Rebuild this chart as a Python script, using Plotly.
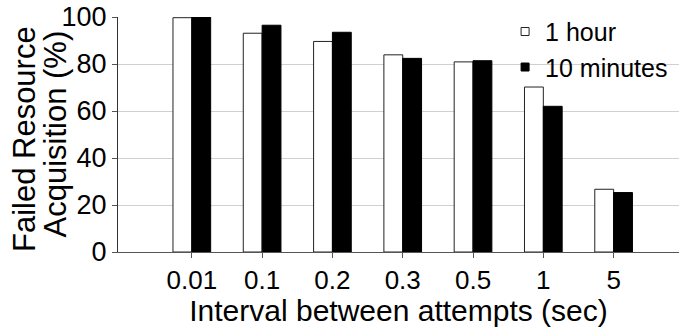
import plotly.graph_objects as go

categories = ["0.01", "0.1", "0.2", "0.3", "0.5", "1", "5"]
one_hour = [99.7, 93.1, 89.6, 83.9, 80.9, 70.2, 26.7]
ten_minutes = [100.0, 96.5, 93.5, 82.4, 81.4, 62.0, 25.3]
series_names = ["1 hour", "10 minutes"]
y_ticks = [0, 20, 40, 60, 80, 100]

FONT = "Liberation Sans, Arial, sans-serif"

fig = go.Figure()
fig.add_trace(go.Bar(x=categories, y=one_hour, name=series_names[0],
                     marker=dict(color="white", line=dict(color="#222", width=1)),
                     showlegend=False))
fig.add_trace(go.Bar(x=categories, y=ten_minutes, name=series_names[1],
                     marker=dict(color="black", line=dict(color="black", width=1)),
                     showlegend=False))
# legend entries with small square markers
fig.add_trace(go.Scatter(x=[None], y=[None], mode="markers", name=series_names[0],
                         marker=dict(symbol="square", size=8, color="white",
                                     line=dict(color="#222", width=1))))
fig.add_trace(go.Scatter(x=[None], y=[None], mode="markers", name=series_names[1],
                         marker=dict(symbol="square", size=8, color="black",
                                     line=dict(color="black", width=1))))

fig.update_layout(
    width=679, height=327,
    margin=dict(l=118, r=0, t=17, b=75),
    paper_bgcolor="white", plot_bgcolor="white",
    font=dict(family=FONT, size=27, color="black"),
    barmode="group", bargap=0.464, bargroupgap=0,
    showlegend=True,
    legend=dict(x=0.69, y=1.035, xanchor="left", yanchor="top",
                bgcolor="rgba(0,0,0,0)", font=dict(size=25),
                itemwidth=30, tracegroupgap=0),
    xaxis=dict(type="category", categoryorder="array", categoryarray=categories,
               range=[-1.05, 6.93], showgrid=False,
               showline=True, linecolor="#555", linewidth=1,
               ticks="outside", ticklen=5, tickcolor="#555",
               tickfont=dict(size=26),
               title=dict(text="Interval between attempts (sec)", font=dict(size=30), standoff=0)),
    yaxis=dict(range=[0, 100], tickvals=y_ticks, showgrid=True, gridcolor="#d0d0d0", gridwidth=1,
               showline=True, linecolor="#333", linewidth=1, zeroline=False,
               ticks="outside", ticklen=5, tickcolor="#555",
               tickfont=dict(size=27)),
    annotations=[
        dict(text="Failed Resource", textangle=-90, xref="paper", yref="paper",
             x=-0.167, y=0.482, xanchor="center", yanchor="middle", showarrow=False,
             font=dict(size=31)),
        dict(text="Acquisition (%)", textangle=-90, xref="paper", yref="paper",
             x=-0.111, y=0.503, xanchor="center", yanchor="middle", showarrow=False,
             font=dict(size=31)),
    ],
)

fig.write_html("out.html")
